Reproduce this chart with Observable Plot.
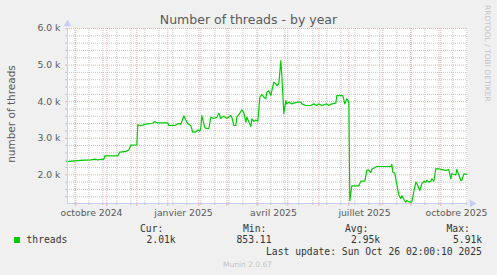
<!DOCTYPE html>
<html><head><meta charset="utf-8">
<script src="https://cdn.jsdelivr.net/npm/d3@7"></script>
<script src="https://cdn.jsdelivr.net/npm/@observablehq/plot@0.6"></script>
<style>
html,body{margin:0;padding:0;background:#f0f0f0;}
#wrap{position:relative;width:497px;height:275px;overflow:hidden;background:#f0f0f0;}
#wrap svg{position:absolute;left:0;top:0;}
</style></head><body><div id="wrap"></div>
<script>
const dates = ["2024-09-22","2024-10-03","2024-10-10","2024-10-16","2024-10-20","2024-10-23","2024-10-26","2024-10-29","2024-10-30","2024-11-12","2024-11-14","2024-11-20","2024-11-23","2024-11-25","2024-12-01","2024-12-02","2024-12-05","2024-12-09","2024-12-13","2024-12-17","2024-12-19","2024-12-21","2025-01-01","2025-01-02","2025-01-08","2025-01-11","2025-01-13","2025-01-14","2025-01-17","2025-01-19","2025-01-21","2025-01-24","2025-01-26","2025-01-29","2025-01-31","2025-02-02","2025-02-03","2025-02-04","2025-02-07","2025-02-11","2025-02-13","2025-02-16","2025-02-19","2025-02-21","2025-02-23","2025-02-24","2025-02-26","2025-03-01","2025-03-05","2025-03-06","2025-03-08","2025-03-10","2025-03-11","2025-03-14","2025-03-16","2025-03-18","2025-03-20","2025-03-21","2025-03-25","2025-03-26","2025-03-28","2025-03-30","2025-04-01","2025-04-03","2025-04-05","2025-04-07","2025-04-09","2025-04-10","2025-04-12","2025-04-14","2025-04-15","2025-04-17","2025-04-19","2025-04-20","2025-04-22","2025-04-24","2025-04-25","2025-04-27","2025-04-29","2025-04-30","2025-05-02","2025-05-05","2025-05-07","2025-05-10","2025-05-14","2025-05-15","2025-05-19","2025-05-24","2025-05-27","2025-05-30","2025-06-01","2025-06-04","2025-06-09","2025-06-11","2025-06-14","2025-06-18","2025-06-19","2025-06-25","2025-06-27","2025-06-29","2025-07-01","2025-07-02","2025-07-04","2025-07-11","2025-07-13","2025-07-17","2025-07-19","2025-07-21","2025-07-23","2025-07-24","2025-07-26","2025-07-29","2025-08-12","2025-08-13","2025-08-14","2025-08-16","2025-08-18","2025-08-20","2025-08-22","2025-08-23","2025-08-25","2025-08-27","2025-08-28","2025-08-30","2025-09-02","2025-09-04","2025-09-06","2025-09-07","2025-09-10","2025-09-12","2025-09-14","2025-09-16","2025-09-17","2025-09-19","2025-09-21","2025-09-22","2025-09-24","2025-09-26","2025-09-29","2025-10-02","2025-10-06","2025-10-09","2025-10-11","2025-10-12","2025-10-16","2025-10-17","2025-10-19","2025-10-21","2025-10-22","2025-10-24","2025-10-27"];
const threads = [2360,2390,2400,2410,2430,2410,2425,2420,2520,2520,2620,2640,2680,2810,2820,3370,3340,3380,3400,3410,3457,3420,3420,3348,3350,3394,3410,3380,3613,3500,3400,3340,3165,3165,3230,3200,3285,3620,3285,3260,3575,3540,3575,3685,3540,3575,3600,3540,3620,3575,3348,3348,3575,3685,3777,3700,3438,3575,3320,3530,3460,3500,3467,4120,4200,4120,4078,4260,4300,4170,4300,4532,4490,4440,4490,5120,4715,3675,4030,3940,3985,3940,3960,3985,3985,3940,3895,3895,3940,3895,3940,3895,3940,3895,3940,3960,4165,4165,3940,4080,4000,1290,1700,1700,1825,1825,2130,2130,2060,2160,2180,2227,2227,2290,2070,2040,1730,1450,1350,1430,1330,1250,1300,1260,1260,1540,1800,1760,1571,1760,1820,1800,1850,1800,1825,1890,1825,2170,2165,2140,2120,2140,1890,2030,2000,2150,2000,1844,1850,2027,2010];

const yMajorTicks = [2000, 3000, 4000, 5000, 6000];
const xLabelDates = ["2024-10-16T16:00Z", "2025-01-16T16:00Z", "2025-04-16T16:00Z", "2025-07-16T16:00Z", "2025-10-16T16:00Z"];
const xLabels = ["octobre 2024", "janvier 2025", "avril 2025", "juillet 2025", "octobre 2025"];
const statNames = ["Cur:", "Min:", "Avg:", "Max:"];
const statValues = ["2.01k", "853.11", "2.95k", "5.91k"];
const seriesName = "threads";
const titleText = "Number of threads - by year";
const yLabelText = "number of threads";
const lastUpdate = "Last update: Sun Oct 26 02:00:10 2025";

const start = new Date("2024-09-22T16:00Z");
const end = new Date(+start + 400 * 864e5);
const yMin = 1216, yMax = 6000;
const data = dates.map((d, i) => ({date: new Date(d), value: threads[i]}));
const months = d3.utcMonth.range(start, end);
const weeks2 = d3.utcDay.range(new Date("2024-09-30"), end, 14).filter(d => d >= start);
const yMinor = d3.range(1400, 6000, 200).filter(v => v % 1000 !== 0);
const labelDates = xLabelDates.map(d => new Date(d));

const RED = "#eeb0b0", GRAY = "#c6c6c6", AXIS = "#c6cdf4", TXT = "#5a5a5a", GREEN = "#00cc00";

const chart = Plot.plot({
  width: 497, height: 275,
  marginLeft: 67, marginRight: 30, marginTop: 28, marginBottom: 72,
  style: {background: "transparent", fontFamily: "'DejaVu Sans', sans-serif", fontSize: "9.3px", color: TXT},
  x: {type: "utc", domain: [start, end]},
  y: {domain: [yMin, yMax]},
  marks: [
    Plot.frame({fill: "white", stroke: "none"}),
    Plot.ruleX(weeks2, {stroke: GRAY, strokeDasharray: "1,1"}),
    Plot.ruleY(yMinor, {stroke: GRAY, strokeDasharray: "1,1"}),
    Plot.ruleX(months, {stroke: RED, strokeDasharray: "1,1"}),
    Plot.ruleY(yMajorTicks, {stroke: RED, strokeDasharray: "1,1"}),
    Plot.line(data, {x: "date", y: "value", stroke: GREEN, strokeWidth: 1.2}),
    Plot.ruleX([start], {stroke: AXIS}),
    Plot.ruleY([yMin], {stroke: AXIS}),
    Plot.dot([[start, yMax]], {x: d => d[0], y: d => d[1], symbol: "triangle", r: 2.8, fill: AXIS, stroke: "none", dy: -4.5}),
    Plot.dot([[end, yMin]], {x: d => d[0], y: d => d[1], symbol: "triangle", r: 2.8, fill: AXIS, stroke: "none", rotate: 90, dx: 4.5}),
    Plot.axisY(yMinor, {tickSize: 2, stroke: GRAY, tickFormat: () => "", label: null}),
    Plot.axisY(yMajorTicks, {tickSize: 2, tickPadding: 5, stroke: RED, fill: TXT, tickFormat: d => (d / 1000).toFixed(1) + " k", label: null}),
    Plot.axisX(weeks2, {tickSize: 2, stroke: GRAY, tickFormat: () => "", label: null}),
    Plot.axisX(months, {tickSize: 3, stroke: RED, tickFormat: () => "", label: null}),
    Plot.axisX(labelDates, {tickSize: 0, tickPadding: 6, fill: TXT, tickFormat: d => xLabels[labelDates.findIndex(e => +e === +d)], label: null})
  ]
});

document.getElementById("wrap").appendChild(chart);
const svg = d3.select(chart);
const sans = "'DejaVu Sans', sans-serif", mono = "'DejaVu Sans Mono', monospace";
function txt(x, y, s, size, fam, fill, anchor, transform) {
  const t = svg.append("text").attr("font-family", fam).attr("font-size", size + "px").attr("fill", fill)
    .attr("text-anchor", anchor || "start").text(s);
  if (transform) t.attr("transform", transform); else t.attr("x", x).attr("y", y);
  return t;
}
txt(248.5, 24, titleText, 12.5, sans, TXT, "middle");
txt(0, 0, yLabelText, 10.5, sans, TXT, "middle", "translate(15,114) rotate(-90)");
txt(0, 0, "RRDTOOL / TOBI OETIKER", 7.5, sans, "#c4c4c4", "start", "translate(485,5) rotate(90)");
svg.append("rect").attr("x", 14).attr("y", 237).attr("width", 6).attr("height", 6).attr("fill", GREEN);
txt(26.5, 243, seriesName, 9.7, mono, "#333");
const nameX = [140, 243, 345, 446.5], valX = [146.5, 236.5, 351, 453];
statNames.forEach((s, i) => txt(nameX[i], 231.5, s, 9.7, mono, "#333"));
statValues.forEach((s, i) => txt(valX[i], 243, s, 9.7, mono, "#333"));
txt(266, 254.5, lastUpdate, 9.7, mono, "#333");
txt(223, 267, "Munin 2.0.67", 7.5, sans, "#c4c4c4");
</script></body></html>
